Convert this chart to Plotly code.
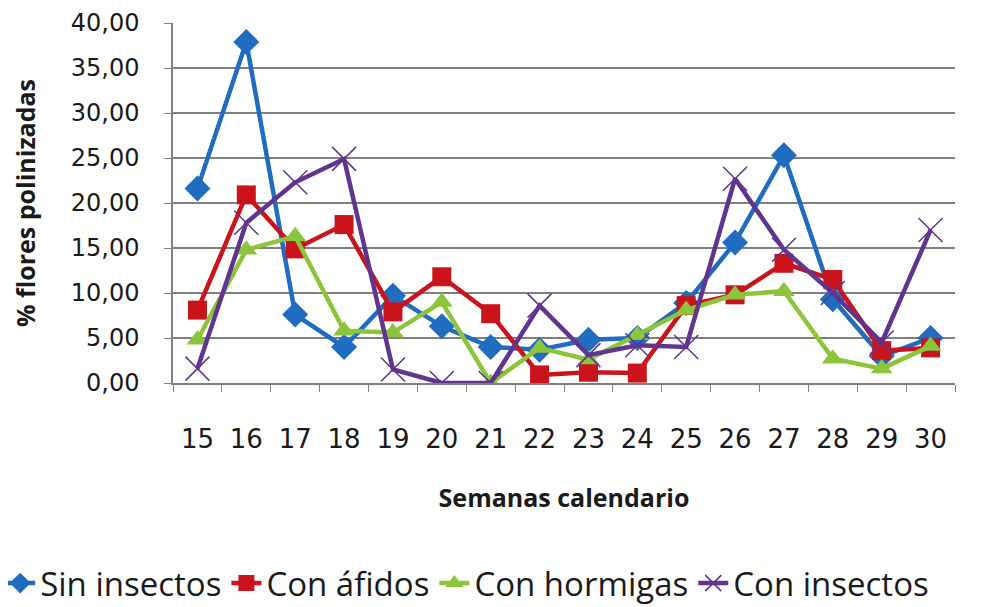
import plotly.graph_objects as go

weeks = ["15", "16", "17", "18", "19", "20", "21", "22", "23", "24", "25", "26", "27", "28", "29", "30"]
sin_insectos = [21.6, 37.9, 7.6, 4.0, 9.7, 6.3, 4.0, 3.7, 4.8, 5.0, 8.9, 15.6, 25.3, 9.3, 3.0, 5.0]
con_afidos = [8.1, 20.9, 14.9, 17.6, 7.9, 11.8, 7.7, 0.9, 1.2, 1.1, 8.6, 9.8, 13.3, 11.5, 3.6, 3.9]
con_hormigas = [4.8, 14.8, 16.3, 5.8, 5.6, 9.0, 0.0, 3.9, 2.6, 5.3, 8.1, 9.8, 10.2, 2.7, 1.6, 4.1]
con_insectos = [1.6, 17.8, 22.3, 24.9, 1.5, 0.0, 0.0, 8.6, 3.1, 4.2, 4.0, 22.7, 14.8, 10.0, 4.5, 17.0]

FONT = "Open Sans"
TICKFONT = "DejaVu Sans"

series = [
    ("Sin insectos", sin_insectos, "#1f6cc0", dict(symbol="diamond", size=20)),
    ("Con áfidos", con_afidos, "#c8141a", dict(symbol="square", size=19)),
    ("Con hormigas", con_hormigas, "#8cc43c", dict(symbol="triangle-up", size=19)),
    ("Con insectos", con_insectos, "#60348f", dict(symbol="x-thin-open", size=24)),
]

fig = go.Figure()
for name, vals, color, mk in series:
    marker = dict(color=color, **mk)
    if mk["symbol"] == "x-thin-open":
        marker["line"] = dict(color="#8a7aa8", width=1.5)
    fig.add_trace(go.Scatter(
        x=weeks, y=vals, name=name, mode="lines+markers",
        line=dict(color=color, width=4.5),
        marker=marker,
    ))

# page body has an 8px margin; figure sized to fit the 981x607 window
fig.update_layout(
    width=973, height=599,
    margin=dict(l=165, r=26, t=15, b=224, autoexpand=False),
    paper_bgcolor="white", plot_bgcolor="white",
    separators=",.",
    font=dict(family=FONT, size=23, color="#1a1a1a"),
    showlegend=True,
    legend=dict(
        orientation="h", xref="paper", yref="paper",
        x=-0.221, xanchor="left", y=-0.556, yanchor="middle",
        font=dict(family=FONT, size=33, color="#1a1a1a"),
        itemwidth=30, tracegroupgap=0,
    ),
    xaxis=dict(
        type="category", range=[-0.5, 15.5], tickson="boundaries", ticks="outside", ticklen=7,
        tickcolor="#808080", showline=True, linecolor="#808080", linewidth=1.5,
        showgrid=False, ticklabelstandoff=32, automargin=False,
        tickfont=dict(family=TICKFONT, size=26, color="#1a1a1a"),
        title=dict(text="<b>Semanas calendario</b>", font=dict(family=FONT, size=25), standoff=37),
    ),
    yaxis=dict(
        range=[0, 40], dtick=5, tickformat=".2f", ticks="outside", ticklen=7,
        tickcolor="#808080", showline=True, linecolor="#808080", linewidth=1.5,
        showgrid=True, gridcolor="#808080", gridwidth=1.5, zeroline=False,
        ticklabelstandoff=20, automargin=False,
        tickfont=dict(family=TICKFONT, size=24, color="#1a1a1a"),
        title=dict(text="<b>% flores polinizadas</b>", font=dict(family=FONT, size=25), standoff=28),
    ),
)

fig.write_html("out.html")
